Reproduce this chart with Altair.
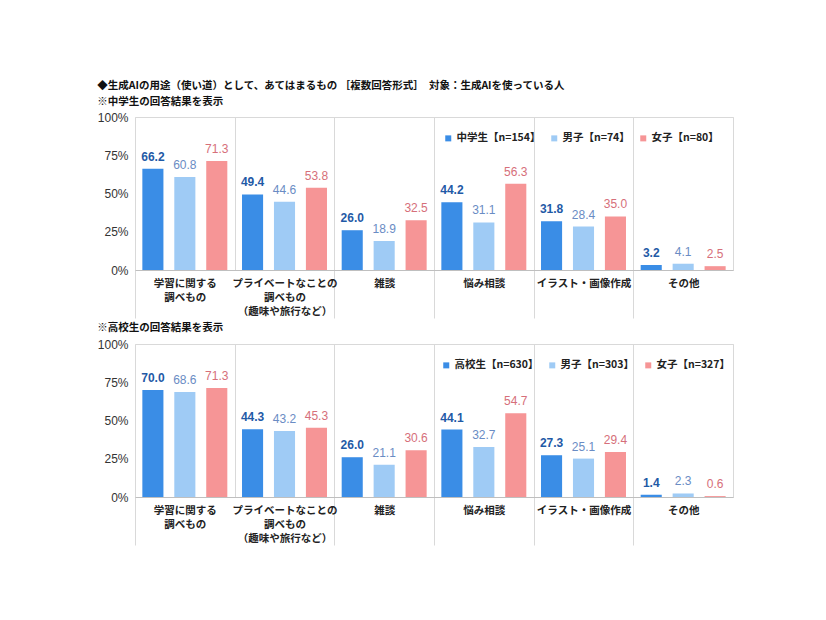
import altair as alt
import pandas as pd

# Response categories; "|" separates the lines of each axis label
cat_keys = ["学習に関する|調べもの",
            "プライベートなことの|調べもの|（趣味や旅行など）",
            "雑談", "悩み相談", "イラスト・画像作成", "その他"]

# Junior high school students (%)
jh_series = ["中学生【n=154】", "男子【n=74】", "女子【n=80】"]
jh_total = [66.2, 49.4, 26.0, 44.2, 31.8, 3.2]
jh_boys = [60.8, 44.6, 18.9, 31.1, 28.4, 4.1]
jh_girls = [71.3, 53.8, 32.5, 56.3, 35.0, 2.5]

# High school students (%)
hs_series = ["高校生【n=630】", "男子【n=303】", "女子【n=327】"]
hs_total = [70.0, 44.3, 26.0, 44.1, 27.3, 1.4]
hs_boys = [68.6, 43.2, 21.1, 32.7, 25.1, 2.3]
hs_girls = [71.3, 45.3, 30.6, 54.7, 29.4, 0.6]

bar_colors = ["#3a8de6", "#9fcbf5", "#f69596"]
label_colors = ["#1f5aa6", "#6a8cc4", "#d66f7a"]

JP = "Noto Sans CJK JP"
NUM = "Liberation Sans"
W, H = 598, 153
SEP = "#d9d9d9"


def panel(series, value_lists, title_lines, legend_x, title_offset):
    rows = []
    for s, vals in zip(series, value_lists):
        for c, v in zip(cat_keys, vals):
            rows.append({"cat": c, "series": s, "value": v})
    df = pd.DataFrame(rows)

    # separators below the plot only between categories, not at the outer edges
    hide_edge = f"datum.value == '{cat_keys[0]}' || datum.index == 1"
    x = alt.X("cat:N", sort=cat_keys,
              scale=alt.Scale(domain=cat_keys, paddingInner=0, paddingOuter=0),
              axis=alt.Axis(title=None, labelExpr="split(datum.label, '|')",
                            labelAngle=0, labelFont=JP, labelFontSize=10.5,
                            labelFontWeight="bold", labelColor="#222222",
                            labelLineHeight=14, labelBaseline="top",
                            labelPadding=-40, labelOverlap=False,
                            tickBand="extent", tickSize=48,
                            tickColor=alt.condition(hide_edge,
                                                    alt.value("transparent"),
                                                    alt.value(SEP)),
                            grid=True, gridColor=SEP, domainColor="#bfbfbf"))
    xo = alt.XOffset("series:N",
                     scale=alt.Scale(domain=series, paddingInner=0.34, paddingOuter=0.23))
    y = alt.Y("value:Q", scale=alt.Scale(domain=[0, 100]),
              axis=alt.Axis(values=[0, 25, 50, 75, 100], labelExpr="datum.value + '%'",
                            title=None, grid=False, domain=False, ticks=False,
                            labelOverlap=False,
                            labelPadding=7, labelFontSize=12, labelColor="#333333",
                            labelFont=NUM))

    base = alt.Chart(df)
    bars = base.mark_bar().encode(
        x=x, xOffset=xo, y=y,
        color=alt.Color("series:N",
                        scale=alt.Scale(domain=series, range=bar_colors),
                        legend=alt.Legend(title=None, orient="none", legendX=legend_x,
                                          legendY=16, direction="horizontal",
                                          symbolType="square", symbolSize=36,
                                          symbolStrokeWidth=0,
                                          labelFont=JP, labelFontSize=10.5,
                                          labelFontWeight="bold", labelColor="#222222",
                                          labelOffset=3, columnPadding=8)),
    )

    value_labels = []
    for i, s in enumerate(series):
        value_labels.append(
            base.transform_filter(alt.datum.series == s)
            .mark_text(baseline="bottom", dy=-5, fontSize=12, font=NUM,
                       fontWeight="bold" if i == 0 else "normal",
                       color=label_colors[i])
            .encode(x=x, xOffset=xo, y=y,
                    text=alt.Text("value:Q", format=".1f"))
        )

    return alt.layer(bars, *value_labels).properties(
        width=W, height=H,
        title=alt.TitleParams(text=title_lines, anchor="start", frame="bounds",
                              font=JP, fontSize=10.5, fontWeight="bold",
                              color="#111111", lineHeight=16, offset=title_offset),
    )


top = panel(jh_series, [jh_total, jh_boys, jh_girls],
            ["◆生成AIの用途（使い道）として、あてはまるもの ［複数回答形式］　対象：生成AIを使っている人",
             "※中学生の回答結果を表示"], 308, 4)
bottom = panel(hs_series, [hs_total, hs_boys, hs_girls],
               ["※高校生の回答結果を表示"], 306, 5)

chart = (
    alt.vconcat(top, bottom, spacing=3)
    .resolve_scale(color="independent", xOffset="independent", x="independent")
    .configure_view(stroke=SEP)
    .properties(padding={"left": 96, "top": 80, "right": 10, "bottom": 10},
                background="white")
)

chart.save("out.html", embed_options={"renderer": "svg", "actions": False})
